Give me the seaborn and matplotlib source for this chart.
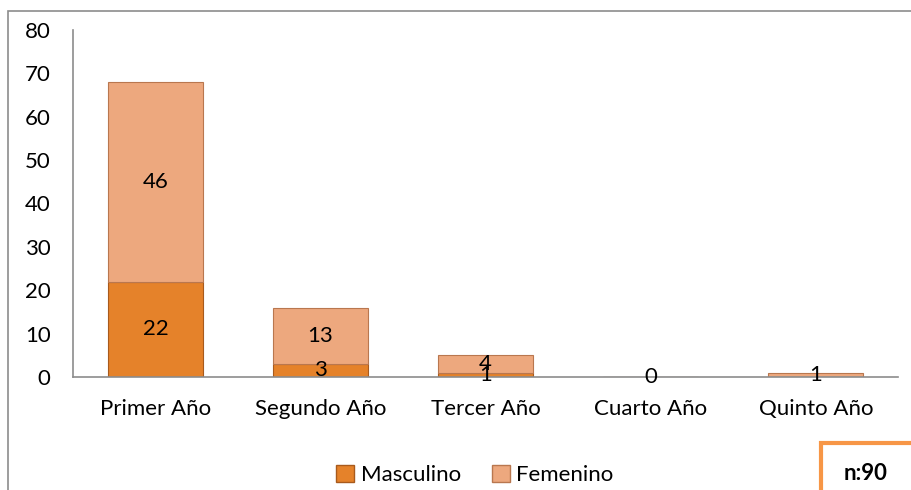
"""Estudiantes por año de estudio y sexo: barras apiladas."""

import matplotlib

matplotlib.use("Agg")
import matplotlib.pyplot as plt
import pandas as pd
import seaborn as sns
from matplotlib.patches import Patch, Rectangle

ANIOS = ["Primer Año", "Segundo Año", "Tercer Año", "Cuarto Año", "Quinto Año"]
MASCULINO = [22, 3, 1, 0, 0]
FEMENINO = [46, 13, 4, 0, 1]
YTICKS = [0, 10, 20, 30, 40, 50, 60, 70, 80]
TOTAL = "n:90"

COLOR_MASC = "#E5822A"
COLOR_FEM = "#EDA87E"
FS = 16

sns.set_theme(style="white")
plt.rcParams["font.family"] = ["Lato", "DejaVu Sans"]
plt.rcParams["text.color"] = "black"

df = pd.DataFrame({"anio": ANIOS, "masc": MASCULINO, "fem": FEMENINO})

fig = plt.figure(figsize=(9.12, 4.9), dpi=100)
ax = fig.add_axes([0.080, 0.2306, 0.905, 0.7082])

sns.barplot(data=df, x="anio", y="masc", color=COLOR_MASC, width=0.576,
            edgecolor="#A85A1C", linewidth=0.8, saturation=1, ax=ax)
sns.barplot(data=df, x="anio", y="fem", color=COLOR_FEM, width=0.576,
            bottom=df["masc"], edgecolor="#B9774F", linewidth=0.8,
            saturation=1, ax=ax)

# etiquetas de datos centradas en cada tramo
for i, (m, f) in enumerate(zip(MASCULINO, FEMENINO)):
    if m == 0 and f == 0:
        ax.text(i, 0, "0", ha="center", va="center", fontsize=FS)
        continue
    if m > 0:
        ax.text(i, m / 2, str(m), ha="center", va="center", fontsize=FS)
    if f > 0:
        ax.text(i, m + f / 2, str(f), ha="center", va="center", fontsize=FS)

ax.set_xlim(-0.5, 4.5)
ax.set_ylim(0, 80)
ax.set_yticks(YTICKS)
ax.set_xlabel("")
ax.set_ylabel("")
ax.tick_params(axis="y", length=0, pad=16, labelsize=FS, colors="black")
ax.tick_params(axis="x", length=0, pad=16, labelsize=FS, colors="black")
for lado in ("top", "right"):
    ax.spines[lado].set_visible(False)
for lado in ("left", "bottom"):
    ax.spines[lado].set_color("#8C8C8C")
    ax.spines[lado].set_linewidth(1.2)

# marco exterior del gráfico (recortado a la derecha y abajo)
fig.patches.append(Rectangle((8 / 912, -0.05), 1.2, 1 - 11 / 490 + 0.05,
                             transform=fig.transFigure, fill=False,
                             edgecolor="#8C8C8C", linewidth=1.2))

# recuadro con el total
fig.patches.append(Rectangle((821 / 912, -0.05), 0.2, 0.05 + 1 - 443 / 490,
                             transform=fig.transFigure, fill=False,
                             edgecolor="#F79646", linewidth=3))
fig.text(866 / 912, 1 - 473 / 490, TOTAL, ha="center", va="center",
         fontsize=FS, fontweight="bold")

handles = [Patch(facecolor=COLOR_MASC, edgecolor="#A85A1C", label="Masculino"),
           Patch(facecolor=COLOR_FEM, edgecolor="#B9774F", label="Femenino")]
fig.legend(handles=handles, loc="center", bbox_to_anchor=(475 / 912, 1 - 475 / 490),
           ncol=2, frameon=False, fontsize=FS, handlelength=0.8, handleheight=0.8,
           handletextpad=0.3, columnspacing=1.4)

fig.savefig("out.png", dpi=100)
